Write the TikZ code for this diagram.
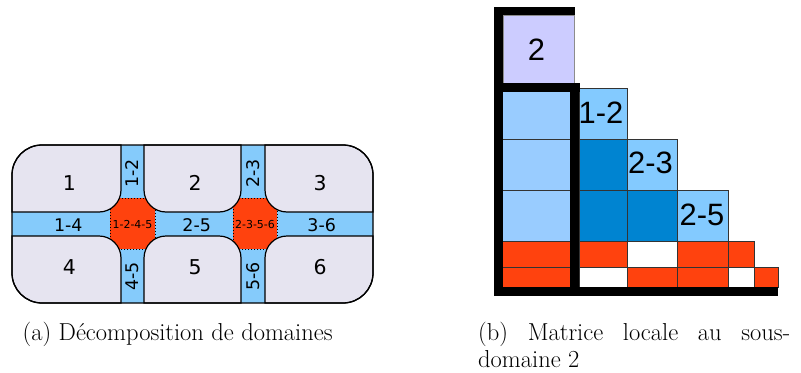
\documentclass[tikz,border=0pt]{standalone}
\usepackage{fontspec}
\newfontfamily\dejavu{DejaVu Sans}
\newfontfamily\libsans{Liberation Sans}
\definecolor{lav}{HTML}{E6E4F0}
\definecolor{band}{HTML}{85CBFB}
\definecolor{ored}{HTML}{FF420E}
\definecolor{mlav}{HTML}{CCCCFF}
\definecolor{mlb}{HTML}{99CCFF}
\definecolor{mb}{HTML}{83CAFF}
\definecolor{mdb}{HTML}{0084D1}
\tikzset{
  subdom/.style={fill=lav,draw=black,line width=1.2bp},
  redsq/.style={fill=ored,draw=black,dotted,line width=1bp},
  dlab/.style={font=\dejavu\fontsize{20.5}{24}\selectfont,inner sep=0pt},
  blab/.style={font=\dejavu\fontsize{17.5}{20}\selectfont,inner sep=0pt},
  slab/.style={font=\dejavu\fontsize{11}{12}\selectfont,inner sep=0pt},
  mlab/.style={font=\libsans\fontsize{31}{36}\selectfont,inner sep=0pt},
  cell/.style={draw=black!80,line width=0.8bp},
  bar/.style={fill=black,draw=none},
  capt/.style={font=\fontsize{24.6}{29.5}\selectfont,inner sep=0pt,anchor=base west}
}
\begin{document}
\begin{tikzpicture}[x=1bp,y=1bp]
\useasboundingbox (0,0) rectangle (801,372);
% ---------- (a) domain decomposition ----------
\fill[band,rounded corners=30bp] (12,69) rectangle (373,227);
\path[redsq] (110,123) rectangle (155,174);
\path[redsq] (233,123) rectangle (277,174);
\path[subdom] (12,160) -- (12,197) arc(180:90:30) -- (121,227) -- (121,182) arc(0:-90:22) -- cycle;
\path[subdom] (144,227) -- (241,227) -- (241,182) arc(0:-90:22) -- (166,160) arc(270:180:22) -- cycle;
\path[subdom] (265,227) -- (343,227) arc(90:0:30) -- (373,160) -- (287,160) arc(270:180:22) -- cycle;
\path[subdom] (12,136) -- (99,136) arc(90:0:22) -- (121,69) -- (42,69) arc(270:180:30) -- cycle;
\path[subdom] (144,69) -- (144,114) arc(180:90:22) -- (219,136) arc(90:0:22) -- (241,69) -- cycle;
\path[subdom] (265,69) -- (265,114) arc(180:90:22) -- (373,136) -- (373,99) arc(0:-90:30) -- cycle;
\draw[line width=1.3bp,rounded corners=30bp] (12,69) rectangle (373,227);
\node[dlab] (d1) at (69.3,189.3) {1};
\node[dlab] (d2) at (195,189.3) {2};
\node[dlab] (d3) at (320,189.3) {3};
\node[dlab] (d4) at (69.3,105.3) {4};
\node[dlab] (d5) at (195,105.3) {5};
\node[dlab] (d6) at (320,105.3) {6};
\node[blab] (i14) at (68.3,147) {1-4};
\node[blab] (i25) at (196.7,147) {2-5};
\node[blab] (i36) at (321.7,147) {3-6};
\node[blab,rotate=90] (i12) at (132.5,198.7) {1-2};
\node[blab,rotate=90] (i23) at (253.3,198.7) {2-3};
\node[blab,rotate=90] (i45) at (132.5,95.3) {4-5};
\node[blab,rotate=90] (i56) at (253.3,95.3) {5-6};
\node[slab] (x1245) at (132.5,147) {1-2-4-5};
\node[slab] (x2356) at (255,147) {2-3-5-6};
% ---------- (b) local matrix ----------
\path[fill=mlav,draw=black!45,line width=0.8bp] (503,289) rectangle (574,357);
% row 1
\path[cell,fill=mlb] (500,233) rectangle (570,284);
\path[cell,fill=mb] (579,233) rectangle (627,284);
% row 2
\path[cell,fill=mlb] (500,182) rectangle (570,233);
\path[cell,fill=mdb] (579,182) rectangle (627,233);
\path[cell,fill=mb] (627,182) rectangle (677,233);
% row 3
\path[cell,fill=mlb] (500,131) rectangle (570,182);
\path[cell,fill=mdb] (579,131) rectangle (627,182);
\path[cell,fill=mdb] (627,131) rectangle (677,182);
\path[cell,fill=mb] (677,131) rectangle (728,182);
% row 4
\path[cell,fill=ored] (500,105) rectangle (570,131);
\path[cell,fill=ored] (579,105) rectangle (627,131);
\path[cell,fill=white] (627,105) rectangle (677,131);
\path[cell,fill=ored] (677,105) rectangle (728,131);
\path[cell,fill=ored] (728,105) rectangle (754,131);
% row 5
\path[cell,fill=ored] (500,85) rectangle (570,105);
\path[cell,fill=white] (579,85) rectangle (627,105);
\path[cell,fill=ored] (627,85) rectangle (677,105);
\path[cell,fill=ored] (677,85) rectangle (728,105);
\path[cell,fill=white] (728,85) rectangle (754,105);
\path[cell,fill=ored] (754,85) rectangle (778,105);
% thick bars
\path[bar] (494,357) rectangle (575,365);
\path[bar] (494,76) rectangle (503,365);
\path[bar] (494,280) rectangle (580,289);
\path[bar] (570,76) rectangle (579,289);
\path[bar] (494,76) rectangle (778,85);
\node[mlab] (m2) at (536.5,322.5) {2};
\node[mlab] (m12) at (601,259.2) {1-2};
\node[mlab] (m23) at (650.5,208.7) {2-3};
\node[mlab] (m25) at (702,157.3) {2-5};
% ---------- captions ----------
\node[capt] (capa) at (22.5,31.5) {(a) Décomposition de domaines};
\node[capt] (capb1) at (478,31.5) {\makebox[312bp][s]{(b) Matrice locale au sous-}};
\node[capt] (capb2) at (478,4.5) {domaine 2};
\end{tikzpicture}
\end{document}
